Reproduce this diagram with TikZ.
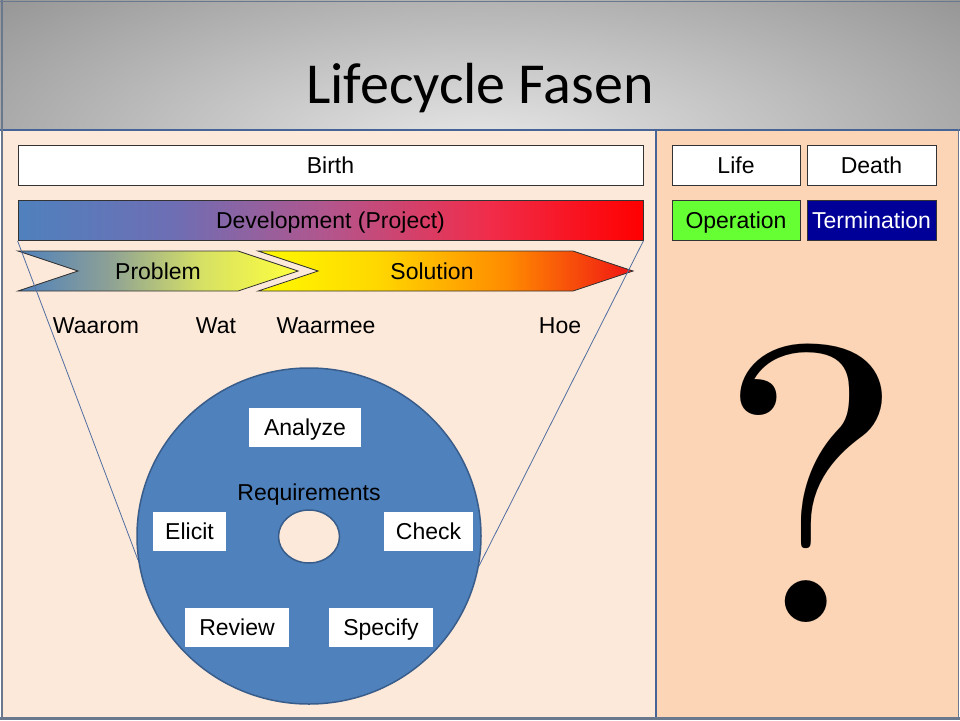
\documentclass[tikz,border=0pt]{standalone}
\usepackage{fontspec}
\setmainfont{Liberation Sans}
\newfontfamily\titlefont{Carlito}
\newfontfamily\qfont{lmroman10-regular.otf}
\usetikzlibrary{shapes.geometric}

\definecolor{leftbg}{RGB}{253,233,218}
\definecolor{rightbg}{RGB}{251,213,181}
\definecolor{divider}{RGB}{70,100,150}
\definecolor{framec}{RGB}{105,120,140}
\definecolor{titlelight}{RGB}{232,232,232}
\definecolor{titledark}{RGB}{150,150,150}
\definecolor{diskblue}{RGB}{79,129,189}
\definecolor{diskborder}{RGB}{56,93,138}
\definecolor{linkblue}{RGB}{80,110,160}
\definecolor{opgreen}{RGB}{102,255,51}
\definecolor{termnavy}{RGB}{0,0,153}
\definecolor{dA}{RGB}{79,129,189}
\definecolor{dB}{RGB}{110,110,180}
\definecolor{dC}{RGB}{180,85,140}
\definecolor{dD}{RGB}{240,45,75}
\definecolor{dE}{RGB}{255,0,0}
\definecolor{pA}{RGB}{79,129,189}
\definecolor{pB}{RGB}{140,160,150}
\definecolor{pC}{RGB}{215,225,100}
\definecolor{pD}{RGB}{255,255,60}
\definecolor{sA}{RGB}{255,250,0}
\definecolor{sB}{RGB}{255,215,0}
\definecolor{sC}{RGB}{255,140,0}
\definecolor{sD}{RGB}{240,20,20}

\pgfdeclarehorizontalshading{devshade}{100bp}{color(0bp)=(dA); color(25bp)=(dA); color(37.5bp)=(dB); color(50bp)=(dC); color(62.5bp)=(dD); color(75bp)=(dE); color(100bp)=(dE)}
\pgfdeclarehorizontalshading{probshade}{100bp}{color(0bp)=(pA); color(25bp)=(pA); color(41bp)=(pB); color(58bp)=(pC); color(75bp)=(pD); color(100bp)=(pD)}
\pgfdeclarehorizontalshading{solshade}{100bp}{color(0bp)=(sA); color(25bp)=(sA); color(41bp)=(sB); color(58bp)=(sC); color(75bp)=(sD); color(100bp)=(sD)}

\begin{document}
\begin{tikzpicture}[x=1pt,y=-1pt,
  txt/.style={font=\fontsize{23}{26}\selectfont, text height=16.5pt, text depth=0pt},
  lbl/.style={txt, inner sep=0pt},
  barbox/.style={txt, draw=black!80, line width=0.8pt, minimum height=40pt, inner sep=0pt},
  chev/.style={draw=black!80, line width=0.8pt},
  whitebox/.style={txt, fill=white, inner sep=0pt, minimum height=39pt},
  zoomline/.style={draw=linkblue, line width=0.8pt}
]
\useasboundingbox (0,0) rectangle (960,720);

% title band
\begin{scope}
  \clip (0,0) rectangle (960,129);
  \fill[titledark] (0,0) rectangle (960,129);
  \shade[inner color=titlelight, outer color=titledark] (480,150) ellipse (640pt and 230pt);
\end{scope}
\draw[framec, line width=1pt] (0,1) -- (960,1);
\node[font=\titlefont\fontsize{58}{60}\selectfont, anchor=base] (title) at (480,103) {Lifecycle Fasen};

% panels
\fill[leftbg] (3,130) rectangle (656,718);
\fill[rightbg] (656,130) rectangle (958,718);
\draw[divider, line width=2pt] (0,129.5) -- (960,129.5);
\draw[divider, line width=2.5pt] (656,129) -- (656,718);
\draw[framec, line width=2pt] (2,0) -- (2,720);
\draw[framec, line width=2.5pt] (0,718.5) -- (960,718.5);
\draw[framec, line width=1.5pt] (958.5,129) -- (958.5,720);

% bars
\node[barbox, fill=white, minimum width=625pt] (birth) at (330.5,165) {Birth};
\node[barbox, shading=devshade, minimum width=625pt] (dev) at (330.5,220.5) {Development (Project)};

\node[barbox, fill=white, minimum width=128pt] (life) at (736,165) {Life};
\node[barbox, fill=white, minimum width=129pt] (death) at (871.5,165) {Death};
\node[barbox, fill=opgreen, minimum width=128pt] (oper) at (736,220.5) {Operation};
\node[barbox, fill=termnavy, text=white, minimum width=129pt] (term) at (871.5,220.5) {Termination};

% chevrons
\path[chev, shading=probshade] (18,251) -- (238,251) -- (298,271) -- (238,291) -- (18,291) -- (78,271) -- cycle;
\path[chev, shading=solshade] (258,251) -- (573,251) -- (633,271) -- (573,291) -- (258,291) -- (318,271) -- cycle;
\node[lbl] (prob) at (158,271) {Problem};
\node[lbl] (sol) at (432,271) {Solution};

% questions
\node[lbl] (waarom) at (96,325) {Waarom};
\node[lbl] (wat) at (216,325) {Wat};
\node[lbl] (waarmee) at (326,325) {Waarmee};
\node[lbl] (hoe) at (560,325) {Hoe};

% disk
\node[ellipse, fill=diskblue, draw=diskborder, line width=1.5pt, minimum width=344pt, minimum height=336pt, inner sep=0pt] (disk) at (309,536) {};
\node[ellipse, fill=leftbg, draw=diskborder, line width=1.5pt, minimum width=61pt, minimum height=53pt, inner sep=0pt] (hole) at (309,536.5) {};

% zoom lines
\draw[zoomline] (dev.south west) -- (disk.188.6);
\draw[zoomline] (dev.south east) -- (disk.-10.6);

% disk labels
\node[whitebox, minimum width=112pt] (analyze) at (305,427.5) {Analyze};
\node[whitebox, minimum width=73pt] (elicit) at (189.5,531.5) {Elicit};
\node[whitebox, minimum width=89pt] (check) at (428.5,531.5) {Check};
\node[whitebox, minimum width=104pt] (review) at (237,627.5) {Review};
\node[whitebox, minimum width=104pt] (specify) at (381,627.5) {Specify};
\node[lbl] (req) at (309,492) {Requirements};

% question mark
\node[font=\qfont\fontsize{395}{395}\selectfont, inner sep=0pt, anchor=base] (qmark) at (812,622) {?};
\end{tikzpicture}
\end{document}
